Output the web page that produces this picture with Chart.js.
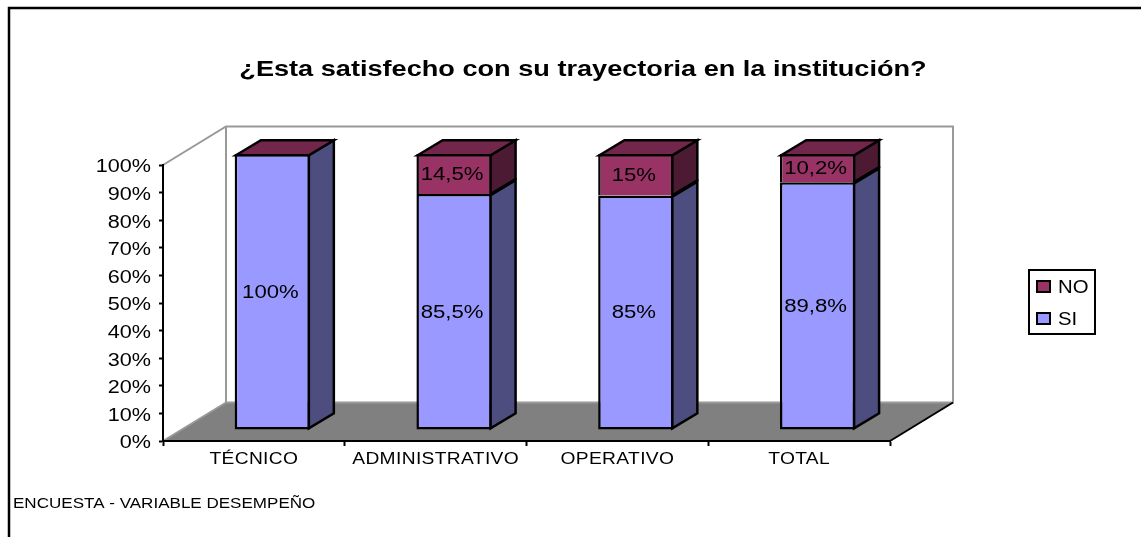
<!DOCTYPE html>
<html><head><meta charset="utf-8">
<style>html,body{margin:0;padding:0;background:#fff}canvas{display:block}</style>
<script src="https://cdn.jsdelivr.net/npm/chart.js@4"></script>
</head><body><canvas id="c" width="1141" height="537"></canvas>
<script>
const categories = ['TÉCNICO','ADMINISTRATIVO','OPERATIVO','TOTAL'];
const seriesSI = [100,85.5,85,89.8];
const seriesNO = [0,14.5,15,10.2];
const labelsSI = ['100%','85,5%','85%','89,8%'];
const labelsNO = ['','14,5%','15%','10,2%'];
const titleText = '¿Esta satisfecho con su trayectoria en la institución?';
const footerText = 'ENCUESTA - VARIABLE DESEMPEÑO';

const FONT = '"Liberation Sans", Arial, sans-serif';
const WALL = {dx:63, dy:-38.5}, BAR = {dx:18.5, dy:-11}, DEPTH = {dx:25, dy:-15};
const LW = 2.5;

function poly(ctx, pts, fill, stroke, lw){
  ctx.beginPath();
  pts.forEach((p,i)=> i?ctx.lineTo(p[0],p[1]):ctx.moveTo(p[0],p[1]));
  ctx.closePath();
  if(fill){ctx.fillStyle=fill;ctx.fill();}
  if(stroke){ctx.strokeStyle=stroke;ctx.lineWidth=lw;ctx.lineJoin='miter';ctx.stroke();}
}
// the reference's text is stretched sideways: draw it with a horizontal scale about its anchor
function wideText(ctx, text, x, y, k){
  ctx.save(); ctx.translate(x,y); ctx.scale(k,1); ctx.fillText(text,0,0); ctx.restore();
}
function stretchTicks(scale, k, spacing, dy){
  if(scale._stretched) return;
  const draw = scale.drawLabels, items = scale.getLabelItems;
  scale.drawLabels = function(a){
    const c=this.ctx, all=items.call(this,a);
    all.forEach(it=>{
      const tx=it.options.translation[0];
      this.getLabelItems=()=>[it];
      c.save(); c.translate(tx,dy); c.scale(k,1); c.translate(-tx,0); c.letterSpacing=spacing;
      draw.call(this,a);
      c.restore();
    });
    this.getLabelItems=items;
  };
  scale._stretched = true;
}
const plugin3d = {
  id:'plugin3d',
  beforeDraw(chart){
    const {ctx,chartArea:a} = chart;
    stretchTicks(chart.scales.x,1.2,'0.3px',0);
    stretchTicks(chart.scales.y,1.2,'0px',2.5);
    ctx.save();
    ctx.fillStyle='#fff'; ctx.fillRect(0,0,chart.width,chart.height);
    // outer frame
    ctx.strokeStyle='#000'; ctx.lineWidth=2.5;
    ctx.beginPath(); ctx.moveTo(9,537); ctx.lineTo(9,8); ctx.lineTo(1141,8); ctx.stroke();
    // floor
    poly(ctx,[[a.left,a.bottom],[a.right,a.bottom],[a.right+WALL.dx,a.bottom+WALL.dy],[a.left+WALL.dx,a.bottom+WALL.dy]],'#808080');
    // walls
    ctx.strokeStyle='#999'; ctx.lineWidth=2;
    ctx.beginPath();
    ctx.moveTo(a.left,a.top); ctx.lineTo(a.left+WALL.dx,a.top+WALL.dy);
    ctx.lineTo(a.right+WALL.dx,a.top+WALL.dy); ctx.lineTo(a.right+WALL.dx,a.bottom+WALL.dy);
    ctx.lineTo(a.left+WALL.dx,a.bottom+WALL.dy); ctx.lineTo(a.left+WALL.dx,a.top+WALL.dy);
    ctx.moveTo(a.left+WALL.dx,a.bottom+WALL.dy); ctx.lineTo(a.left,a.bottom);
    ctx.stroke();
    ctx.strokeStyle='#000'; ctx.lineWidth=2;
    ctx.beginPath(); ctx.moveTo(a.right,a.bottom); ctx.lineTo(a.right+WALL.dx,a.bottom+WALL.dy); ctx.stroke();
    // title
    ctx.fillStyle='#000'; ctx.font='bold 22px '+FONT; ctx.textAlign='center'; ctx.textBaseline='middle';
    wideText(ctx,titleText,583,69.5,1.233);
    ctx.restore();
  },
  beforeDatasetsDraw(chart){ chart.ctx.save(); chart.ctx.translate(BAR.dx,BAR.dy); },
  afterDatasetsDraw(chart){
    const ctx = chart.ctx;
    const sides = ['#4D4D80','#4D1A33'];
    const inset = LW/2;
    chart.data.datasets.forEach((ds,di)=>{
      chart.getDatasetMeta(di).data.forEach((el,i)=>{
        const r=el.x+el.width/2-inset, l=el.x-el.width/2+inset, t=el.y+inset, b=el.base-(di?0:inset);
        if(ds.data[i]>0)
          poly(ctx,[[r,t],[r+DEPTH.dx,t+DEPTH.dy],[r+DEPTH.dx,b+DEPTH.dy],[r,b]],sides[di],'#000',LW);
        if(di===1)
          poly(ctx,[[l,t],[l+DEPTH.dx,t+DEPTH.dy],[r+DEPTH.dx,t+DEPTH.dy],[r,t]],'#72264C','#000',LW);
      });
    });
    const texts=[labelsSI,labelsNO];
    ctx.fillStyle='#000'; ctx.font='18px '+FONT; ctx.textAlign='center'; ctx.textBaseline='middle';
    chart.data.datasets.forEach((ds,di)=>{
      chart.getDatasetMeta(di).data.forEach((el,i)=>{
        if(texts[di][i]) wideText(ctx,texts[di][i],el.x-2,(el.y+el.base)/2+1,1.23);
      });
    });
    ctx.restore();
    // legend
    ctx.save();
    ctx.strokeStyle='#000'; ctx.lineWidth=2; ctx.strokeRect(1029,270,66,64);
    const items=[...chart.data.datasets].reverse();
    ctx.font='18.5px '+FONT; ctx.textAlign='left'; ctx.textBaseline='middle';
    items.forEach((ds,i)=>{
      const y=281+i*32;
      ctx.fillStyle=ds.backgroundColor; ctx.fillRect(1037,y,13,11);
      ctx.strokeStyle='#000'; ctx.lineWidth=2; ctx.strokeRect(1037,y,13,11);
      ctx.fillStyle='#000'; wideText(ctx,ds.label,1058,y+7,1.1);
    });
    // footer
    ctx.font='14.5px '+FONT; wideText(ctx,footerText,13,503.5,1.175);
    ctx.restore();
  }
};
new Chart(document.getElementById('c'),{
  type:'bar',
  data:{labels:categories,datasets:[
    {label:'SI',data:seriesSI,backgroundColor:'#9999FF',borderColor:'#000',borderWidth:LW,borderSkipped:false,inflateAmount:0},
    {label:'NO',data:seriesNO,backgroundColor:'#993366',borderColor:'#000',borderWidth:LW,borderSkipped:'bottom',inflateAmount:0}
  ]},
  options:{
    responsive:false,animation:false,
    layout:{padding:{left:25,right:251,top:165,bottom:0}},
    datasets:{bar:{categoryPercentage:1,barPercentage:0.415}},
    plugins:{legend:{display:false},tooltip:{enabled:false},title:{display:false}},
    scales:{
      x:{stacked:true,
        afterFit(s){s.height=96;},
        border:{color:'#000',width:2},
        grid:{drawOnChartArea:false,drawTicks:true,tickLength:5,tickColor:'#000',tickWidth:2},
        ticks:{color:'#000',font:{family:FONT,size:16},padding:4,maxRotation:0,autoSkip:false}},
      y:{stacked:true,min:0,max:100,
        afterFit(s){s.width=138;},
        border:{color:'#000',width:2},
        grid:{drawOnChartArea:false,drawTicks:true,tickLength:4,tickColor:'#000',tickWidth:2},
        ticks:{color:'#000',font:{family:FONT,size:18},stepSize:10,padding:8,callback:v=>v+'%'}}
    }
  },
  plugins:[plugin3d]
});
</script></body></html>
